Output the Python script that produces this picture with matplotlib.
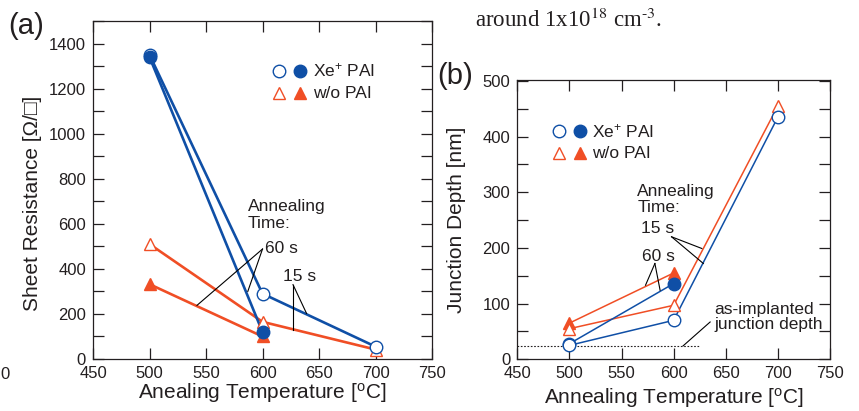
import matplotlib
matplotlib.use("Agg")
import matplotlib.pyplot as plt
from matplotlib.ticker import MultipleLocator

plt.rcParams['font.family'] = ['Liberation Sans', 'DejaVu Sans']
plt.rcParams['mathtext.fontset'] = 'custom'
plt.rcParams['mathtext.rm'] = 'Liberation Sans'
plt.rcParams['mathtext.it'] = 'Liberation Sans:italic'
plt.rcParams['text.color'] = '#231f20'

BLUE = '#0f4fa6'
RED = '#f04e25'

# ---- data: panel (a) sheet resistance ----
temps_15 = [500, 600, 700]
temps_60 = [500, 600]
rs_xe_15 = [1350, 290, 55]
rs_xe_60 = [1340, 120]
rs_wo_15 = [510, 165, 42]
rs_wo_60 = [332, 100]

# ---- data: panel (b) junction depth ----
xj_xe_15 = [25, 70, 435]
xj_xe_60 = [28, 136]
xj_wo_15 = [55, 97, 455]
xj_wo_60 = [65, 155]
as_implanted = 24

W, H = 859, 411
fig = plt.figure(figsize=(W / 100, H / 100), dpi=100)


def px_axes(l, t, r, b):
    return fig.add_axes([l / W, 1 - b / H, (r - l) / W, (b - t) / H])


def style(ax, ymax, ymaj, ymin):
    ax.set_xlim(450, 750)
    ax.set_ylim(0, ymax)
    ax.xaxis.set_major_locator(MultipleLocator(50))
    ax.yaxis.set_major_locator(MultipleLocator(ymaj))
    ax.yaxis.set_minor_locator(MultipleLocator(ymin))
    ax.tick_params(which='both', direction='in', top=True, right=True,
                   length=8, width=0.9, labelsize=12, colors='#231f20')
    ax.tick_params(axis='y', pad=5)
    ax.tick_params(axis='x', pad=5)
    for s in ax.spines.values():
        s.set_linewidth(0.9)
        s.set_color('#231f20')
    yt = [v for v in range(0, ymax, ymaj)]
    ax.set_yticks(yt)
    ax.set_yticklabels([str(v) for v in yt])


def series(ax, x, y, color, marker, filled, lw, ms):
    ax.plot(x, y, color=color, lw=lw, zorder=2, solid_capstyle='round')
    ax.plot(x, y, ls='none', marker=marker, ms=ms,
            mfc=color if filled else 'white', mec=color, mew=1.0, zorder=3)


# ---------------- panel (a) ----------------
axa = px_axes(93, 21, 432, 359)
style(axa, 1500, 200, 100)
series(axa, temps_60, rs_wo_60, RED, '^', True, 1.9, 9)
series(axa, temps_15, rs_wo_15, RED, '^', False, 1.9, 9)
series(axa, temps_15, rs_xe_15, BLUE, 'o', False, 1.9, 9)
series(axa, temps_60, rs_xe_60, BLUE, 'o', True, 1.9, 9)

axa.text(0.5, -0.10, 'Anealing Temperature [$^{\\mathrm{o}}$C]', transform=axa.transAxes,
         ha='center', va='center', fontsize=15)
axa.text(-0.177, 0.46, 'Sheet Resistance [\u03a9/\u25a1]', transform=axa.transAxes,
         ha='center', va='center', rotation=90, fontsize=15)

# legend (a)
axa.plot([614.6], [1280], ls='none', marker='o', ms=9, mfc='white', mec=BLUE, mew=1.0)
axa.plot([633], [1280], ls='none', marker='o', ms=9, mfc=BLUE, mec=BLUE)
axa.text(644.5, 1280, 'Xe$^{+}$ PAI', fontsize=12.5, va='center')
axa.plot([614.6], [1180], ls='none', marker='^', ms=9, mfc='white', mec=RED, mew=1.0)
axa.plot([633], [1180], ls='none', marker='^', ms=9, mfc=RED, mec=RED)
axa.text(644.5, 1180, 'w/o PAI', fontsize=12.5, va='center')

# annotations (a)
axa.text(587, 708, 'Annealing\nTime:', fontsize=12.5, va='top', linespacing=1.1)
axa.text(602, 492, '60 s', fontsize=12.5, va='center')
axa.plot([600, 542], [488, 238], color='black', lw=0.8)
axa.plot([600, 587], [488, 300], color='black', lw=0.8)
axa.text(618, 368, '15 s', fontsize=12.5, va='center')
axa.plot([627, 639], [330, 202], color='black', lw=0.8)
axa.plot([627, 627], [330, 130], color='black', lw=0.8)

fig.text(8 / W, 1 - 26 / H, '(a)', fontsize=21, ha='left', va='center')
fig.text(5 / W, 1 - 374 / H, '0', fontsize=12, ha='center', va='center')

# ---------------- panel (b) ----------------
axb = px_axes(517.3, 80.3, 830, 359.3)
style(axb, 501, 100, 50)
axb.set_yticks([0, 100, 200, 300, 400, 500])
axb.set_yticklabels(['0', '100', '200', '300', '400', '500'])
axb.hlines(as_implanted, 450, 625, colors='#231f20', linestyles=(0, (1.5, 1.5)), lw=0.8)
series(axb, temps_60, xj_wo_60, RED, '^', True, 1.1, 9)
series(axb, temps_15, xj_wo_15, RED, '^', False, 1.1, 9)
series(axb, temps_60, xj_xe_60, BLUE, 'o', True, 1.1, 9)
series(axb, temps_15, xj_xe_15, BLUE, 'o', False, 1.1, 9)

axb.text(0.5, -0.139, 'Annealing Temperature [$^{\\mathrm{o}}$C]', transform=axb.transAxes,
         ha='center', va='center', fontsize=15)
axb.text(-0.193, 0.5, 'Junction Depth [nm]', transform=axb.transAxes,
         ha='center', va='center', rotation=90, fontsize=15)

# legend (b)
axb.plot([490], [410], ls='none', marker='o', ms=9, mfc='white', mec=BLUE, mew=1.0)
axb.plot([510], [410], ls='none', marker='o', ms=9, mfc=BLUE, mec=BLUE)
axb.text(522, 410, 'Xe$^{+}$ PAI', fontsize=12.5, va='center')
axb.plot([490], [370], ls='none', marker='^', ms=9, mfc='white', mec=RED, mew=1.0)
axb.plot([510], [370], ls='none', marker='^', ms=9, mfc=RED, mec=RED)
axb.text(522, 370, 'w/o PAI', fontsize=12.5, va='center')

# annotations (b)
axb.text(565, 314, 'Annealing\nTime:', fontsize=12.5, va='top', linespacing=1.05)
axb.text(568.4, 235, '15 s', fontsize=12.5, va='center')
axb.plot([598, 627], [220, 199], color='black', lw=0.8)
axb.plot([598, 628.5], [220, 172], color='black', lw=0.8)
axb.text(570, 184, '60 s', fontsize=12.5, va='center')
axb.plot([582, 573], [172, 133], color='black', lw=0.8)
axb.plot([582, 587], [172, 124], color='black', lw=0.8)
axb.text(638.7, 76, 'as-implanted\njunction depth', fontsize=12.5, va='center', linespacing=1.05)
axb.plot([635, 609], [67, 24], color='black', lw=0.8)

fig.text(437 / W, 1 - 76 / H, '(b)', fontsize=21, ha='left', va='center')

fig.text(475 / W, 1 - 27 / H, 'around 1x10$^{\\text{18}}$ cm$^{\\text{-3}}$.', fontsize=16.5,
         family='Liberation Serif', math_fontfamily='stix', ha='left', va='baseline')

fig.savefig('out.png', dpi=100)
